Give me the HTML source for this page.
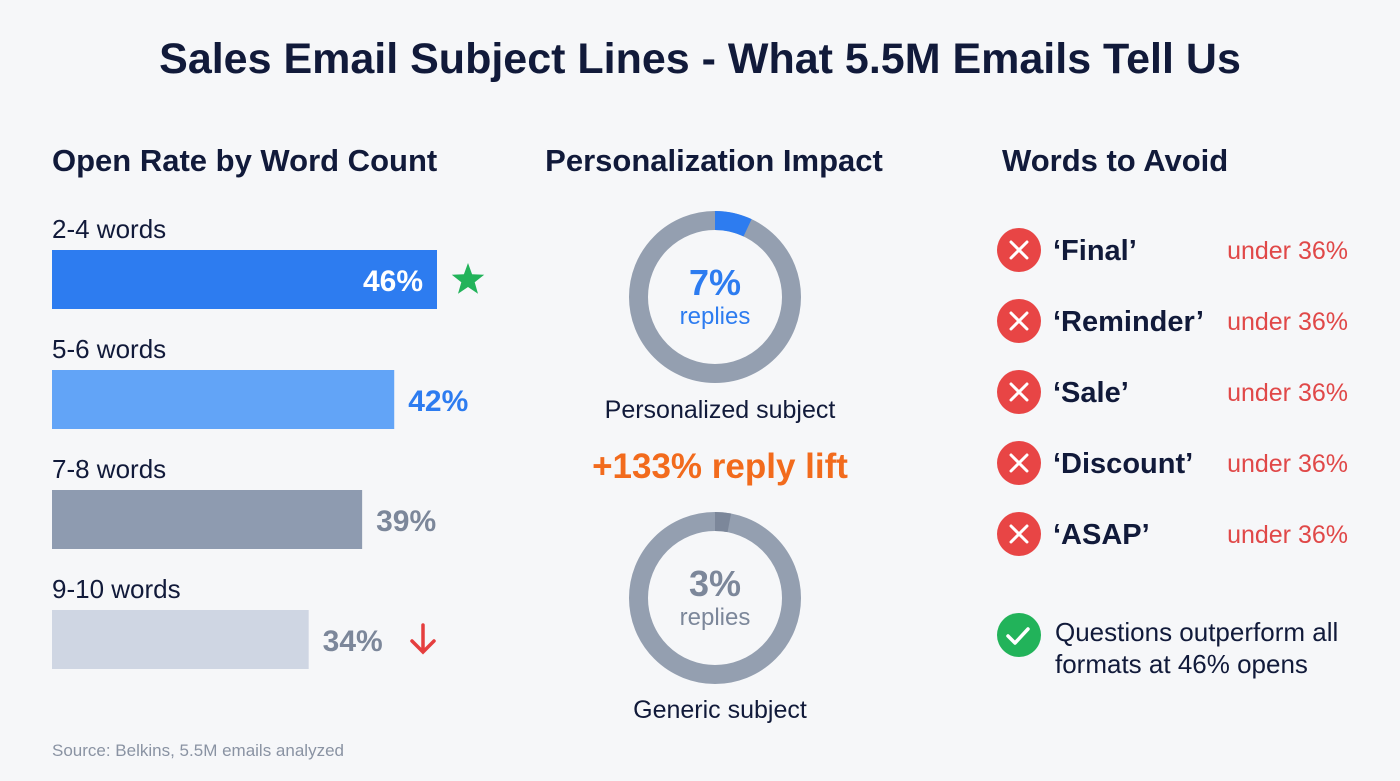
<!DOCTYPE html>
<html><head><meta charset="utf-8"><style>
body{margin:0;background:#f6f7f9;}
svg{display:block;font-family:"Liberation Sans",sans-serif;}
</style></head><body>
<svg id="c" width="1400" height="781" viewBox="0 0 1400 781">
<rect width="1400" height="781" fill="#f6f7f9"/>
<text x="700" y="73" text-anchor="middle" font-size="43" font-weight="bold" fill="#111a3a">Sales Email Subject Lines - What 5.5M Emails Tell Us</text>
<text x="52" y="171" font-size="31" font-weight="bold" fill="#111a3a">Open Rate by Word Count</text>
<text x="714" y="171" text-anchor="middle" font-size="31" font-weight="bold" fill="#111a3a">Personalization Impact</text>
<text x="1002" y="171" font-size="31" font-weight="bold" fill="#111a3a">Words to Avoid</text>
<g id="bars"></g>
<g id="donuts"></g>
<text x="720" y="478" text-anchor="middle" font-size="35" font-weight="bold" fill="#f26b1d">+133% reply lift</text>
<g id="avoid"></g>
<circle cx="1019" cy="635" r="22" fill="#22b35a"/>
<path d="M1008 636 l7 7 l13 -14" stroke="#fff" stroke-width="3.5" fill="none" stroke-linecap="round" stroke-linejoin="round"/>
<text x="1055" y="641" font-size="26" fill="#111a3a">Questions outperform all</text>
<text x="1055" y="673" font-size="26" fill="#111a3a">formats at 46% opens</text>
<text x="52" y="756" font-size="17" fill="#8a93a3">Source: Belkins, 5.5M emails analyzed</text>
</svg>
<script>
const categories=["2-4 words","5-6 words","7-8 words","9-10 words"];
const openRates=[46,42,39,34];
const barColors=["#2d7cf0","#62a4f7","#8e9bb0","#cfd6e3"];
const labelColors=["#ffffff","#2d7cf0","#7c879a","#7c879a"];
const donutLabels=["Personalized subject","Generic subject"];
const replyRates=[7,3];
const avoidWords=["‘Final’","‘Reminder’","‘Sale’","‘Discount’","‘ASAP’"];
const avoidRates=[36,36,36,36,36];
const NS="http://www.w3.org/2000/svg";
function mk(p,t,a,txt){const e=document.createElementNS(NS,t);for(const k in a)e.setAttribute(k,a[k]);if(txt!=null)e.textContent=txt;p.appendChild(e);return e;}
const xScale=v=>(v-10)/(46-10)*385;
const bars=document.getElementById('bars');
categories.forEach((c,i)=>{
  const y=250+i*120,w=xScale(openRates[i]);
  let t=mk(bars,'text',{x:52,y:y-12,'font-size':26,fill:'#111a3a'},c);
  
  
  let r=mk(bars,'rect',{x:52,y:y,width:w,height:59,fill:barColors[i]});
  
  
  const inside=i===0;
  let l=mk(bars,'text',{x:inside?52+w-14:52+w+14,y:y+41,'font-size':30,'font-weight':'bold',fill:labelColors[i],'text-anchor':inside?'end':'start'},openRates[i]+'%');
  
  
});
{const cx=468,cy=280,pts=[];for(let k=0;k<10;k++){const rr=k%2?7:17,a=-Math.PI/2+k*Math.PI/5;pts.push((cx+rr*Math.cos(a)).toFixed(1)+','+(cy+rr*Math.sin(a)).toFixed(1));}
let s=mk(bars,'polygon',{points:pts.join(' '),fill:'#22b35a','stroke-linejoin':'round'});

}
{let a=mk(bars,'path',{d:'M423 625 v26 M412 641 l11 11 l11 -11',stroke:'#e53e3e','stroke-width':3.5,fill:'none','stroke-linecap':'round'});

}
const donuts=document.getElementById('donuts');
const accent=["#2d7cf0","#7c879a"],ring="#949fb0";
replyRates.forEach((v,i)=>{
  const cx=715,cy=297+i*301,R=76.5,C=2*Math.PI*R;
  let g=mk(donuts,'circle',{cx:cx,cy:cy,r:R,fill:'none',stroke:ring,'stroke-width':19});
  
  
  let a=mk(donuts,'circle',{cx:cx,cy:cy,r:R,fill:'none',stroke:accent[i],'stroke-width':19,'stroke-dasharray':(C*v/100)+' '+C,transform:`rotate(-90 ${cx} ${cy})`});
  
  
  let t=mk(donuts,'text',{x:cx,y:cy-2,'text-anchor':'middle','font-size':36,'font-weight':'bold',fill:accent[i]},v+'%');
  
  
  let t2=mk(donuts,'text',{x:cx,y:cy+27,'text-anchor':'middle','font-size':24,fill:accent[i]},'replies');
  
  
  let t3=mk(donuts,'text',{x:720,y:i?718:418,'text-anchor':'middle','font-size':25,fill:'#111a3a'},donutLabels[i]);
  
  
});
const avoid=document.getElementById('avoid');
avoidWords.forEach((w,i)=>{
  const y=250+i*71;
  let c=mk(avoid,'circle',{cx:1019,cy:y,r:22,fill:'#e84545'});
  
  
  mk(avoid,'path',{d:`M${1011} ${y-8} l16 16 M${1027} ${y-8} l-16 16`,stroke:'#fff','stroke-width':3,'stroke-linecap':'round'});
  let t=mk(avoid,'text',{x:1053,y:y+10,'font-size':29,'font-weight':'bold',fill:'#111a3a'},w);
  
  
  let r=mk(avoid,'text',{x:1348,y:y+9,'text-anchor':'end','font-size':25,fill:'#e04848'},'under '+avoidRates[i]+'%');
  
  
});
</script>
</body></html>
